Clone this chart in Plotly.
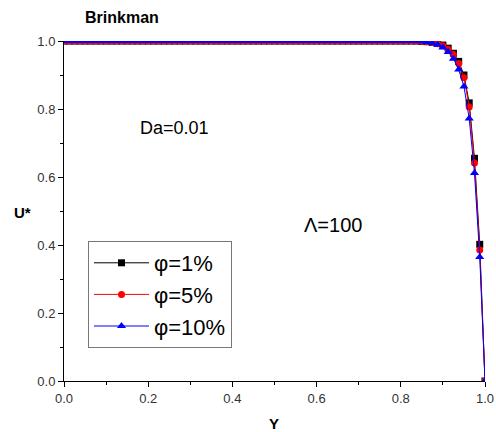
import plotly.graph_objects as go

# Dimensionless coordinate across the channel
y_pos = [
    0.0, 0.0125, 0.025, 0.0375, 0.05, 0.0625, 0.075, 0.0875, 0.1, 0.1125,
    0.125, 0.1375, 0.15, 0.1625, 0.175, 0.1875, 0.2, 0.2125, 0.225, 0.2375,
    0.25, 0.2625, 0.275, 0.2875, 0.3, 0.3125, 0.325, 0.3375, 0.35, 0.3625,
    0.375, 0.3875, 0.4, 0.4125, 0.425, 0.4375, 0.45, 0.4625, 0.475, 0.4875,
    0.5, 0.5125, 0.525, 0.5375, 0.55, 0.5625, 0.575, 0.5875, 0.6, 0.6125,
    0.625, 0.6375, 0.65, 0.6625, 0.675, 0.6875, 0.7, 0.7125, 0.725, 0.7375,
    0.75, 0.7625, 0.775, 0.7875, 0.8, 0.8125, 0.825, 0.8375, 0.85, 0.8625,
    0.875, 0.8875, 0.9, 0.9125, 0.925, 0.9375, 0.95, 0.9625, 0.975, 0.9875,
    1.0,
]

# Dimensionless velocity U* for each nanoparticle volume fraction
u_phi1 = [
    1.0, 1.0, 1.0, 1.0, 1.0, 1.0, 1.0, 1.0, 1.0, 1.0,
    1.0, 1.0, 1.0, 1.0, 1.0, 1.0, 1.0, 1.0, 1.0, 1.0,
    1.0, 1.0, 1.0, 1.0, 1.0, 1.0, 1.0, 1.0, 1.0, 1.0,
    1.0, 1.0, 1.0, 1.0, 1.0, 1.0, 1.0, 1.0, 1.0, 1.0,
    1.0, 1.0, 1.0, 1.0, 1.0, 1.0, 1.0, 1.0, 1.0, 1.0,
    1.0, 1.0, 1.0, 1.0, 1.0, 1.0, 1.0, 1.0, 1.0, 1.0,
    1.0, 1.0, 1.0, 1.0, 1.0, 1.0, 1.0, 1.0, 0.999, 0.998,
    0.996, 0.993, 0.988, 0.979, 0.964, 0.940, 0.900, 0.818, 0.655, 0.402,
    0.0,
]
u_phi5 = [
    1.0, 1.0, 1.0, 1.0, 1.0, 1.0, 1.0, 1.0, 1.0, 1.0,
    1.0, 1.0, 1.0, 1.0, 1.0, 1.0, 1.0, 1.0, 1.0, 1.0,
    1.0, 1.0, 1.0, 1.0, 1.0, 1.0, 1.0, 1.0, 1.0, 1.0,
    1.0, 1.0, 1.0, 1.0, 1.0, 1.0, 1.0, 1.0, 1.0, 1.0,
    1.0, 1.0, 1.0, 1.0, 1.0, 1.0, 1.0, 1.0, 1.0, 1.0,
    1.0, 1.0, 1.0, 1.0, 1.0, 1.0, 1.0, 1.0, 1.0, 1.0,
    1.0, 1.0, 1.0, 1.0, 1.0, 1.0, 1.0, 1.0, 0.999, 0.998,
    0.996, 0.992, 0.986, 0.976, 0.960, 0.934, 0.892, 0.806, 0.641, 0.385,
    0.0,
]
u_phi10 = [
    1.0, 1.0, 1.0, 1.0, 1.0, 1.0, 1.0, 1.0, 1.0, 1.0,
    1.0, 1.0, 1.0, 1.0, 1.0, 1.0, 1.0, 1.0, 1.0, 1.0,
    1.0, 1.0, 1.0, 1.0, 1.0, 1.0, 1.0, 1.0, 1.0, 1.0,
    1.0, 1.0, 1.0, 1.0, 1.0, 1.0, 1.0, 1.0, 1.0, 1.0,
    1.0, 1.0, 1.0, 1.0, 1.0, 1.0, 1.0, 1.0, 1.0, 1.0,
    1.0, 1.0, 1.0, 1.0, 1.0, 1.0, 1.0, 1.0, 1.0, 1.0,
    1.0, 1.0, 1.0, 1.0, 1.0, 1.0, 1.0, 1.0, 0.999, 0.997,
    0.994, 0.989, 0.981, 0.968, 0.948, 0.916, 0.866, 0.772, 0.612, 0.365,
    0.0,
]

series_names = ["φ=1%", "φ=5%", "φ=10%"]
series_values = [u_phi1, u_phi5, u_phi10]
series_colors = ["#000000", "#ff0000", "#0000ff"]
series_symbols = ["square", "circle", "triangle-up"]
series_sizes = [7, 7, 8]

tick_vals = [0.0, 0.2, 0.4, 0.6, 0.8, 1.0]
tick_text = ["0.0", "0.2", "0.4", "0.6", "0.8", "1.0"]

FONT = "Liberation Sans, Arial, sans-serif"

# plot area in pixels
L, R, T, B = 64, 485, 41, 381
W, H = 496, 432


def px_x(px):
    return (px - L) / (R - L)


def px_y(py):
    return (B - py) / (B - T)


fig = go.Figure()
for name, vals, col, sym, sz in zip(series_names, series_values, series_colors,
                                     series_symbols, series_sizes):
    fig.add_trace(go.Scatter(
        x=y_pos, y=vals, name=name, mode="lines+markers",
        line=dict(color=col, width=1),
        marker=dict(color=col, symbol=sym, size=sz, line=dict(width=0)),
    ))

axis_common = dict(
    range=[0, 1], tickvals=tick_vals, ticktext=tick_text, automargin=False,
    showline=True, linecolor="#000000", linewidth=1,
    showgrid=False, zeroline=False, ticklen=5, tickwidth=1, tickcolor="#000000",
    minor=dict(dtick=0.1, ticklen=3, tickwidth=1, tickcolor="#000000", ticks="outside"),
    tickfont=dict(family=FONT, size=13, color="#333333"),
)

fig.update_layout(
    width=W, height=H,
    margin=dict(l=L, r=W - R, t=T, b=H - B, autoexpand=False),
    paper_bgcolor="white", plot_bgcolor="white",
    showlegend=True,
    xaxis=dict(axis_common, ticks="outside"),
    yaxis=dict(axis_common, ticks="outside"),
    xaxis2=dict(axis_common, overlaying="x", side="top", ticks="inside",
                showticklabels=False,
                minor=dict(dtick=0.1, ticklen=3, ticks="inside", tickcolor="#000000")),
    yaxis2=dict(axis_common, overlaying="y", side="right", ticks="inside",
                showticklabels=False,
                minor=dict(dtick=0.1, ticklen=3, ticks="inside", tickcolor="#000000")),
    legend=dict(
        x=px_x(88), y=px_y(241), xanchor="left", yanchor="top",
        bgcolor="white", bordercolor="#777777", borderwidth=1,
        font=dict(family=FONT, size=22, color="#000000"),
        itemwidth=55, tracegroupgap=0,
    ),
    font=dict(family=FONT),
)


def label(text, x, y, size, xref="paper", yref="paper"):
    fig.add_annotation(text=text, xref=xref, yref=yref, x=x, y=y,
                       xanchor="center", yanchor="middle", showarrow=False,
                       font=dict(family=FONT, size=size, color="#000000"))


label("<b>Brinkman</b>", px_x(122), px_y(17), 16)
label("Da=0.01", 0.263, 0.744, 18, "x", "y")
label("Λ=100", 0.638, 0.46, 20, "x", "y")
label("<b>U*</b>", px_x(22), px_y(212), 15)
label("<b>Y</b>", px_x(274), px_y(423), 15)

fig.write_html("out.html")
